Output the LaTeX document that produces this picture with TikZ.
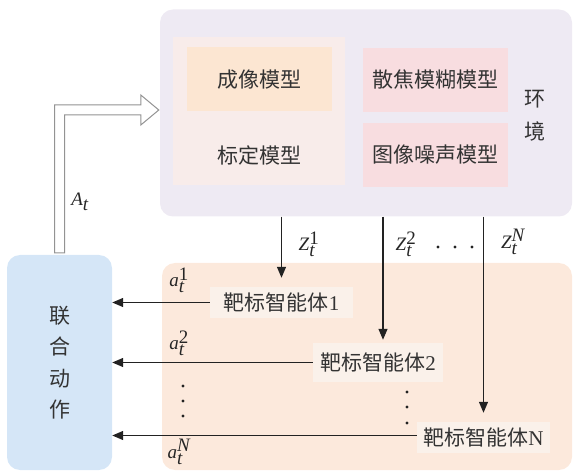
\documentclass[tikz,border=0pt]{standalone}
\usepackage{fontspec}
\setmainfont{Liberation Serif}
\newfontfamily\cjk{Noto Sans CJK SC}
\usetikzlibrary{arrows.meta,calc}
\definecolor{envbg}{HTML}{EEEAF3}
\definecolor{grpbg}{HTML}{F8ECEA}
\definecolor{imgc}{HTML}{FCE6D2}
\definecolor{pinkc}{HTML}{F8DDE0}
\definecolor{jointc}{HTML}{D5E6F7}
\definecolor{agbg}{HTML}{FCE9DC}
\definecolor{agc}{HTML}{FAF1EA}
\definecolor{linec}{HTML}{222222}
\begin{document}
\begin{tikzpicture}[x=1pt,y=-1pt,
  cjkfont/.style={font=\fontsize{21}{25}\selectfont\cjk},
  envbox/.style={rectangle, rounded corners=13pt, fill=envbg, draw=none, minimum width=412pt, minimum height=207pt},
  grpbox/.style={rectangle, fill=grpbg, draw=none, minimum width=172pt, minimum height=148pt},
  mbox/.style={rectangle, draw=none, minimum width=145pt, minimum height=64pt, cjkfont, text=black!80},
  txt/.style={cjkfont, text=black!80, inner sep=0pt},
  agbox/.style={rectangle, fill=agc, draw=none, minimum height=31pt, font=\fontsize{21}{25}\selectfont, text=black!80, inner sep=3pt},
  arr/.style={-{Triangle[length=11pt,width=9pt]}, line width=1.2pt, draw=linec},
  lab/.style={font=\fontsize{19}{22}\selectfont, text=black!85, inner sep=0pt},
  hollow/.style={draw=gray!85, line width=1pt, fill=white, line join=miter},
  dot/.style={circle, fill=linec, draw=none, inner sep=0pt, minimum size=3.2pt}
]
\useasboundingbox (0,0) rectangle (579,473);
% environment
\node[envbox] (env) at (366,113) {};
\node[grpbox] (grp) at (259,111) {};
\node[mbox, fill=imgc] (m1) at (259.5,79.5) {成像模型};
\node[txt] (m2) at (259,155) {标定模型};
\node[mbox, fill=pinkc] (m3) at (435.5,80) {散焦模糊模型};
\node[mbox, fill=pinkc] (m4) at (435.5,155) {图像噪声模型};
\node[txt, align=center, font=\fontsize{21}{33}\selectfont\cjk] (envl) at (535,116) {环\\境};
% joint action
\node[rectangle, rounded corners=13pt, fill=jointc, minimum width=105pt, minimum height=215pt, align=center,
      font=\fontsize{21}{31.5}\selectfont\cjk, text=black!80] (joint) at (59.5,362.5) {联\\合\\动\\作};
% agents area
\node[rectangle, rounded corners=13pt, fill=agbg, minimum width=410pt, minimum height=207pt] (agarea) at (367,366.5) {};
\node[agbox, minimum width=143pt] (a1) at (281.5,302.5) {{\cjk 靶标智能体}1};
\node[agbox, minimum width=130pt, minimum height=39pt] (a2) at (378,362.5) {{\cjk 靶标智能体}2};
\node[agbox, minimum width=133pt] (aN) at (483.5,437.5) {{\cjk 靶标智能体}N};
% hollow arrow
\coordinate (tip) at ($(env.west)+(-1,-3)$);
\coordinate (sb) at ($(joint.north)+(0,-2)$);
\draw[hollow] ($(sb)+(-5,0)$) |- ($(tip)+(-18,-5)$) -- ($(tip)+(-18,-15)$) -- (tip)
  -- ($(tip)+(-18,15)$) -- ($(tip)+(-18,5)$) -| ($(sb)+(5,0)$) -- cycle;
\node[lab] (At) at (80,202) {$\textit{A}_{\textit{t}}$};
% observation arrows
\draw[arr, shorten >=9pt] (env.south -| a1.north) -- (a1.north);
\draw[arr, shorten >=3pt] ($(env.south -| a2.north)+(5,0)$) -- ($(a2.north)+(5,0)$);
\draw[arr, shorten >=9pt] (env.south -| aN.north) -- (aN.north);
\node[lab] (z1) at (309,244) {$\textit{Z}_{\textit{t}}^{\textrm{1}}$};
\node[lab] (z2) at (406,244) {$\textit{Z}_{\textit{t}}^{\textrm{2}}$};
\node[lab] (zN) at (513,242) {$\textit{Z}_{\textit{t}}^{\textit{N}}$};
\node[dot] (hd1) at (438,247) {};
\node[dot] (hd2) at (455,247) {};
\node[dot] (hd3) at (472,247) {};
% action arrows
\draw[arr] (a1.west) -- (a1.west -| joint.east);
\draw[arr] (a2.west) -- (a2.west -| joint.east);
\draw[arr] ($(aN.west)+(0,-2)$) -- ($(aN.west -| joint.east)+(0,-2)$);
\node[lab] (l1) at (179,280) {$\textit{a}_{\textit{t}}^{\textrm{1}}$};
\node[lab] (l2) at (179,343) {$\textit{a}_{\textit{t}}^{\textrm{2}}$};
\node[lab] (lN) at (179,452) {$\textit{a}_{\textit{t}}^{\textit{N}}$};
\node[dot] (vd1) at (183,386) {};
\node[dot] (vd2) at (183,401) {};
\node[dot] (vd3) at (183,416) {};
\node[dot] (rd1) at (407,392) {};
\node[dot] (rd2) at (407,407) {};
\node[dot] (rd3) at (407,423) {};
\end{tikzpicture}
\end{document}
